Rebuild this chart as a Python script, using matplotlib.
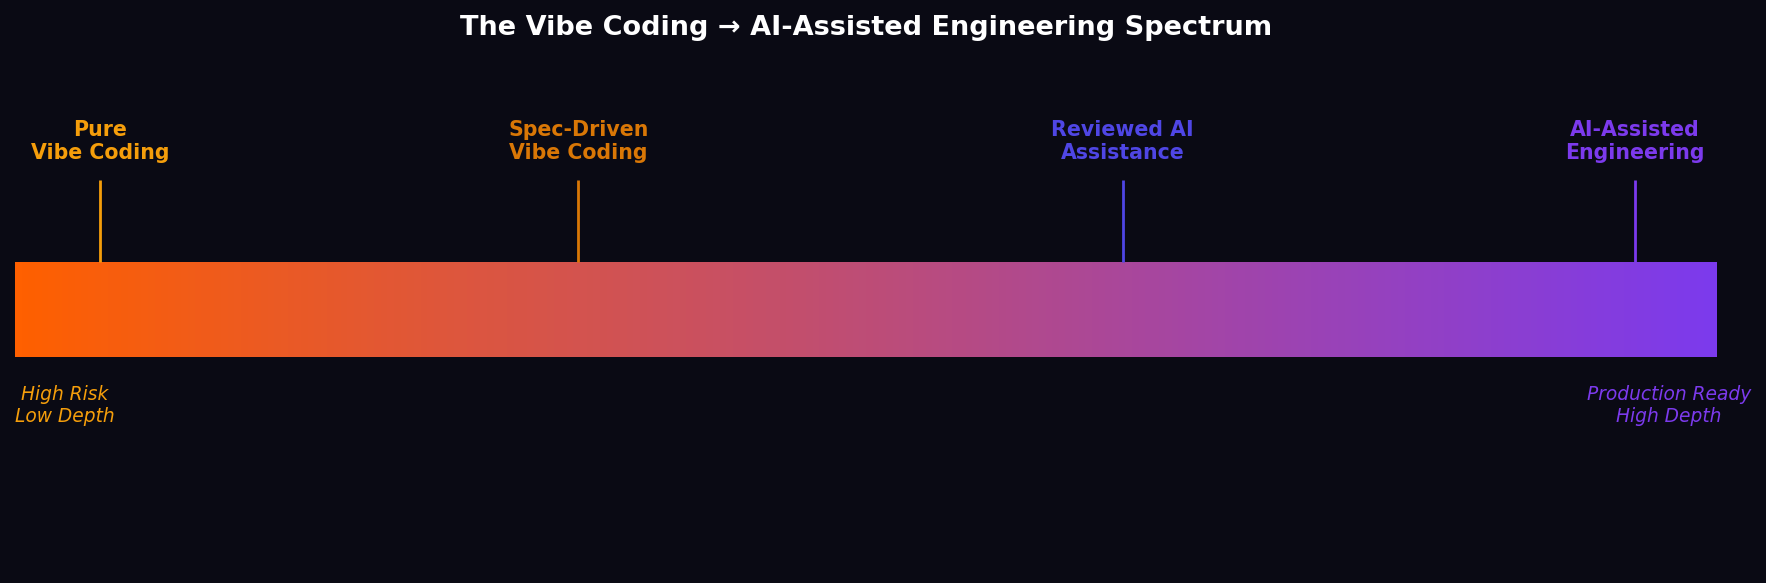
import numpy as np
import matplotlib.pyplot as plt
from matplotlib.colors import LinearSegmentedColormap

# stages along the spectrum (0 = pure vibe, 1 = engineering)
stage_names = ["Pure\nVibe Coding", "Spec-Driven\nVibe Coding",
               "Reviewed AI\nAssistance", "AI-Assisted\nEngineering"]
stage_pos = [0.05, 0.331, 0.651, 0.952]
stage_colors = ["#F59E0B", "#D97706", "#4F46E5", "#7C3AED"]

end_labels = ["High Risk\nLow Depth", "Production Ready\nHigh Depth"]
end_colors = ["#F59E0B", "#7C3AED"]

bg = "#0a0a14"
W, H = 1766, 583

fig = plt.figure(figsize=(W / 100, H / 100), dpi=100, facecolor=bg)
ax = fig.add_axes([0, 0, 1, 1])
ax.set_facecolor(bg)
ax.axis("off")

# pixel layout -> data units (bar spans x 0..1, y 0..1)
px_x = 1701.7
px_y = 94.7
bar_top = 262
ax.set_xlim(-15 / px_x, (W - 15) / px_x)
ax.set_ylim(-(H - bar_top - px_y) / px_y, (bar_top + px_y) / px_y)


def ypos(py):
    return (bar_top + px_y - py) / px_y


cmap = LinearSegmentedColormap.from_list("spec", ["#FF6000", "#7C3AED"])
grad = np.linspace(0, 1, 512).reshape(1, -1)
ax.imshow(grad, cmap=cmap, extent=[0, 1, 0, 1], aspect="auto", zorder=1)

for name, x, c in zip(stage_names, stage_pos, stage_colors):
    ax.plot([x, x], [1, ypos(180)], color=c, lw=2, zorder=2,
            solid_capstyle="butt")
    ax.text(x, ypos(141.5), name, color=c, fontsize=14.8,
            fontweight="bold", ha="center", va="center", linespacing=1.2)

ax.text(0.0, ypos(406), end_labels[0], color=end_colors[0],
        fontsize=13.4, style="italic", ha="left", va="center",
        multialignment="center", linespacing=1.2)
ax.text(0.9718, ypos(406), end_labels[1], color=end_colors[1],
        fontsize=13.4, style="italic", ha="center", va="center",
        multialignment="center", linespacing=1.2)

ax.text(0.5, ypos(35),
        "The Vibe Coding \u2192 AI-Assisted Engineering Spectrum",
        color="white", fontsize=19.5, fontweight="bold", ha="center",
        va="baseline")

fig.savefig("out.png", dpi=100, facecolor=bg)
